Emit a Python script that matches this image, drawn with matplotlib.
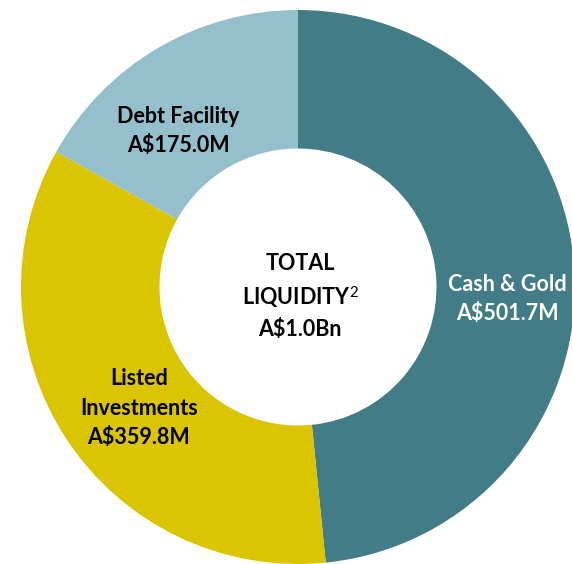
import matplotlib

matplotlib.use("Agg")
import matplotlib.pyplot as plt

labels = ["Cash & Gold", "Listed\nInvestments", "Debt Facility"]
values = [501.7, 359.8, 175.0]
value_text = ["A$501.7M", "A$359.8M", "A$175.0M"]
colors = ["#417C87", "#DBC400", "#94C0CB"]
text_colors = ["white", "black", "black"]
center_text = "TOTAL\nLIQUIDITY$^2$\nA$1.0Bn"

plt.rcParams["font.family"] = ["Lato", "DejaVu Sans"]
plt.rcParams["mathtext.fontset"] = "custom"
plt.rcParams["mathtext.rm"] = "Lato"
plt.rcParams["mathtext.default"] = "rm"

fig = plt.figure(figsize=(5.72, 5.64), dpi=100)
ax = fig.add_axes([0, 0, 1, 1])

wedges, _ = ax.pie(values, colors=colors, startangle=90, counterclock=False,
                   radius=1.0, wedgeprops=dict(width=0.5, linewidth=0))

# label spots, picked by eye (data units, pie radius = 1)
spots = [(0.755, -0.043), (-0.574, -0.437), (-0.433, 0.563)]
for (x, y), lab, val, tc in zip(spots, labels, value_text, text_colors):
    ax.text(x, y, f"{lab}\n{val}", ha="center", va="center", color=tc,
            fontsize=15.5, fontweight="bold", linespacing=1.5)

ax.text(0.007, -0.036, center_text.replace("$", r"\$").replace(r"\$^2\$", "$^2$"),
        ha="center", va="center", color="black",
        fontsize=15.5, fontweight="bold", linespacing=1.5)

ax.set_aspect("auto")
ax.set_xlim(-1.0758, 0.9892)
ax.set_ylim(-1.0, 1.0361)
ax.axis("off")

fig.savefig("out.png", dpi=100)
